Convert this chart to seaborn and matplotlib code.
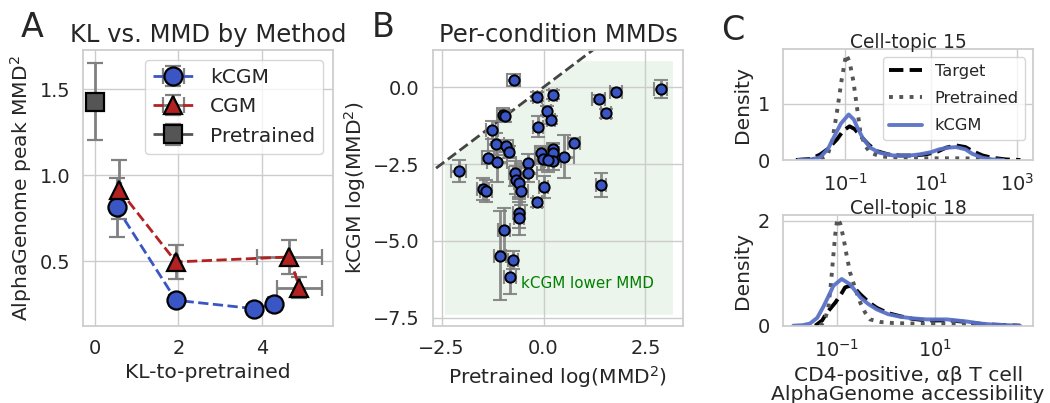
import numpy as np
import pandas as pd
import matplotlib
matplotlib.use("Agg")
import matplotlib.pyplot as plt
import seaborn as sns

# ---- Panel A: KL vs MMD per method ----
kcgm_kl = [0.52, 1.94, 3.82, 4.28]
kcgm_mmd = [0.813, 0.273, 0.224, 0.253]
kcgm_kl_err = [0.05, 0.05, 0.10, 0.14]
kcgm_mmd_err = [0.17, 0.03, 0.02, 0.03]

cgm_kl = [0.58, 1.94, 4.66, 4.90]
cgm_mmd = [0.917, 0.496, 0.525, 0.347]
cgm_kl_err = [0.05, 0.05, 0.78, 0.53]
cgm_mmd_err = [0.17, 0.10, 0.10, 0.06]

pre_kl = [0.0]
pre_mmd = [1.428]
pre_mmd_err = [0.225]

# ---- Panel B: per-condition log MMD^2 ----
pre_log = [-0.735, -0.15, 0.24, 0.09, 0.18, -0.13, -1.00, -0.95, -1.27, -1.16,
           -0.91, -0.84, -1.37, -1.14, -2.08, -1.48, -1.41, -0.69, -0.68, -0.60,
           -0.54, -0.37, -0.37, -0.05, -0.02, 0.24, 0.24, 0.24, 0.12, 0.50,
           0.74, 0.00, -0.15, -0.61, -0.61, -0.97, -1.07, -0.75, -0.83, 1.35,
           1.78, 1.54, 2.87, 1.40]
kcgm_log = [0.24, -0.31, -0.25, -0.76, -1.07, -1.28, -0.89, -0.93, -1.39, -1.85,
            -1.92, -2.12, -2.29, -2.44, -2.72, -3.32, -3.37, -2.80, -3.02, -3.13,
            -3.38, -2.46, -2.78, -2.15, -2.34, -2.00, -2.15, -2.40, -2.37, -2.26,
            -1.81, -3.25, -3.74, -4.08, -4.27, -4.64, -5.49, -5.62, -6.18, -0.37,
            -0.15, -0.85, -0.05, -3.18]
pre_log_err = [0.15, 0.12, 0.10, 0.10, 0.10, 0.12, 0.15, 0.12, 0.15, 0.20,
               0.15, 0.12, 0.15, 0.25, 0.18, 0.15, 0.15, 0.15, 0.15, 0.12,
               0.15, 0.30, 0.20, 0.15, 0.20, 0.10, 0.15, 0.20, 0.15, 0.25,
               0.15, 0.12, 0.12, 0.15, 0.12, 0.15, 0.15, 0.12, 0.15, 0.15,
               0.15, 0.12, 0.15, 0.12]
kcgm_log_err = [0.20, 0.15, 0.15, 0.15, 0.12, 0.35, 0.20, 0.20, 0.28, 0.35,
                0.20, 0.20, 0.20, 0.65, 0.35, 0.35, 0.35, 0.40, 0.45, 0.50,
                0.45, 0.30, 0.30, 0.25, 0.35, 0.20, 0.30, 0.30, 0.40, 0.70,
                0.15, 0.35, 0.15, 0.50, 0.55, 0.70, 1.45, 0.30, 0.55, 0.12,
                0.12, 0.15, 0.30, 0.38]
shade_x = [-2.43, 0.86, 3.16]
shade_lo = -7.39
shade_hi = [-2.43, 0.86, 0.86]

# ---- Panel C: density curves (x in log10 units) ----
t15_target_lx = [-2.15, -1.8, -1.58, -1.4, -1.19, -1.05, -0.9, -0.78, -0.65, -0.45, -0.27, 0.0,
                 0.27, 0.6, 0.88, 1.15, 1.35, 1.58, 1.8, 1.96, 2.2, 2.42, 2.75, 3.08]
t15_target = [0.0, 0.02, 0.1, 0.2, 0.37, 0.52, 0.60, 0.55, 0.43, 0.27, 0.16, 0.10,
              0.08, 0.08, 0.10, 0.15, 0.22, 0.26, 0.23, 0.16, 0.08, 0.04, 0.01, 0.0]
t15_kcgm_lx = [-2.1, -1.8, -1.58, -1.4, -1.27, -1.1, -0.92, -0.8, -0.73, -0.6, -0.42, -0.2,
               0.12, 0.5, 0.73, 1.0, 1.19, 1.4, 1.58, 1.8, 1.96, 2.2, 2.42, 2.69]
t15_kcgm = [0.0, 0.01, 0.05, 0.2, 0.4, 0.65, 0.81, 0.72, 0.6, 0.4, 0.22, 0.13,
            0.08, 0.08, 0.10, 0.14, 0.19, 0.22, 0.23, 0.19, 0.11, 0.04, 0.01, 0.0]
t15_pre_lx = [-1.81, -1.6, -1.42, -1.3, -1.19, -1.08, -0.98, -0.9, -0.81, -0.72,
              -0.65, -0.55, -0.42, -0.2, 0.12, 0.6, 1.2, 1.8, 2.3, 2.73]
t15_pre = [0.0, 0.02, 0.07, 0.35, 0.87, 1.45, 1.88, 1.75, 1.40, 0.90,
           0.51, 0.27, 0.13, 0.07, 0.04, 0.03, 0.03, 0.03, 0.01, 0.0]

t18_target_lx = [-1.44, -1.3, -1.2, -1.03, -0.9, -0.83, -0.74, -0.62, -0.52, -0.35, -0.18, 0.05,
                 0.30, 0.55, 0.84, 1.1, 1.32, 1.55, 1.8, 2.0, 2.21, 2.5, 2.75]
t18_target = [0.0, 0.1, 0.25, 0.44, 0.62, 0.73, 0.76, 0.70, 0.60, 0.45, 0.34, 0.24,
              0.18, 0.13, 0.10, 0.10, 0.10, 0.08, 0.05, 0.03, 0.02, 0.01, 0.0]
t18_kcgm_lx = [-1.89, -1.7, -1.55, -1.4, -1.27, -1.15, -1.07, -0.9, -0.73, -0.6, -0.52, -0.35,
               -0.18, 0.05, 0.30, 0.55, 0.84, 1.25, 1.66, 1.95, 2.21, 2.5, 2.75]
t18_kcgm = [0.0, 0.01, 0.04, 0.15, 0.37, 0.60, 0.76, 0.89, 0.79, 0.64, 0.54, 0.41,
            0.31, 0.22, 0.17, 0.14, 0.12, 0.12, 0.08, 0.04, 0.02, 0.01, 0.0]
t18_pre_lx = [-1.34, -1.25, -1.17, -1.12, -1.07, -1.03, -0.99, -0.93, -0.86, -0.8, -0.73,
              -0.62, -0.52, -0.42, -0.32, -0.1, 0.16, 0.6, 1.2, 1.6, 1.87, 2.07]
t18_pre = [0.0, 0.08, 0.37, 0.80, 1.34, 1.75, 2.04, 1.95, 1.66, 1.35, 1.02,
           0.70, 0.44, 0.25, 0.12, 0.07, 0.05, 0.04, 0.04, 0.03, 0.02, 0.0]

BLUE = "#3a55c4"
RED = "#b22222"
DGRAY = "#555555"
KBLUE = "#5a72c8"

sns.set_theme(style="whitegrid")
plt.rcParams['font.family'] = ['DejaVu Sans']

TICK = 13.9
LAB = 14.6
TITLE = 17.5

fig = plt.figure(figsize=(10.5, 4.03), dpi=100)
W, H = 1050, 403


def px_axes(x0, y0, x1, y1):
    return fig.add_axes([x0 / W, 1 - y1 / H, (x1 - x0) / W, (y1 - y0) / H])


# Panel A
axA = px_axes(83.3, 50, 333.3, 325.7)
eb = dict(ecolor="gray", elinewidth=2, capsize=6, capthick=2, markersize=13,
          markeredgecolor="black", markeredgewidth=1.6, lw=2)
axA.errorbar(kcgm_kl, kcgm_mmd, xerr=kcgm_kl_err, yerr=kcgm_mmd_err, fmt="o--",
             color=BLUE, label="kCGM", **eb)
axA.errorbar(cgm_kl, cgm_mmd, xerr=cgm_kl_err, yerr=cgm_mmd_err, fmt="^--",
             color=RED, label="CGM", **eb)
axA.errorbar(pre_kl, pre_mmd, yerr=pre_mmd_err, fmt="s--",
             color=DGRAY, label="Pretrained", **eb)
axA.set_xlim(-0.28, 5.71)
axA.set_ylim(0.125, 1.729)
axA.set_xticks([0, 2, 4])
axA.set_yticks([0.5, 1.0, 1.5])
axA.set_xlabel("KL-to-pretrained", fontsize=LAB)
axA.set_ylabel("AlphaGenome peak MMD$^2$", fontsize=LAB)
axA.set_title("KL vs. MMD by Method", fontsize=TITLE)
axA.tick_params(labelsize=TICK)
axA.legend(loc="upper right", fontsize=14.6)

# Panel B
axB = px_axes(433, 50, 683, 326)
axB.fill_between(shade_x, shade_lo, shade_hi, color="green", alpha=0.08, lw=0, zorder=0)
axB.plot([-3.5, 2.0], [-3.5, 2.0], ls="--", color="#444444", lw=2, zorder=1)
axB.errorbar(pre_log, kcgm_log, xerr=pre_log_err, yerr=kcgm_log_err, fmt="none",
             ecolor="gray", elinewidth=2, capsize=5, capthick=1.5, alpha=0.9, zorder=2)
sns.scatterplot(x=pre_log, y=kcgm_log, ax=axB, color=BLUE, edgecolor="black",
                linewidth=1.4, s=55, zorder=3)
axB.text(-0.56, -6.38, "kCGM lower MMD", color="green", fontsize=10.9, va="center", ha="left")
axB.set_xlim(-2.71, 3.42)
axB.set_ylim(-7.77, 1.21)
axB.set_xticks([-2.5, 0.0, 2.5])
axB.set_yticks([0.0, -2.5, -5.0, -7.5])
axB.set_xlabel("Pretrained log(MMD$^2$)", fontsize=LAB)
axB.set_ylabel("kCGM log(MMD$^2$)", fontsize=LAB)
axB.set_title("Per-condition MMDs", fontsize=TITLE)
axB.tick_params(labelsize=TICK)

# Panel C
axC1 = px_axes(783, 49.3, 1033.3, 160)
axC2 = px_axes(783, 215, 1033.3, 325.7)


def draw_density(ax, tgt_lx, tgt, pre_lx, pre, k_lx, k):
    ax.set_xscale("log")
    sns.lineplot(x=np.power(10.0, tgt_lx), y=tgt, ax=ax, color="black", ls="--",
                 lw=2.8, label="Target")
    sns.lineplot(x=np.power(10.0, pre_lx), y=pre, ax=ax, color=DGRAY, ls=":",
                 lw=2.8, label="Pretrained")
    sns.lineplot(x=np.power(10.0, k_lx), y=k, ax=ax, color=KBLUE, lw=2.8,
                 alpha=0.95, label="kCGM")
    ax.set_ylabel("Density", fontsize=LAB)
    ax.tick_params(labelsize=TICK)
    ax.minorticks_off()


draw_density(axC1, t15_target_lx, t15_target, t15_pre_lx, t15_pre, t15_kcgm_lx, t15_kcgm)
axC1.set_xlim(10 ** -2.45, 10 ** 3.38)
axC1.set_ylim(0, 1.97)
axC1.set_xticks([0.1, 10, 1000])
axC1.set_yticks([0, 1])
axC1.set_title("Cell-topic 15", fontsize=13.4, pad=1)
axC1.set_xlabel("")
axC1.legend(loc="upper right", fontsize=11.7, labelspacing=0.75)

draw_density(axC2, t18_target_lx, t18_target, t18_pre_lx, t18_pre, t18_kcgm_lx, t18_kcgm)
axC2.set_xlim(10 ** -2.1, 10 ** 3.02)
axC2.set_ylim(0, 2.11)
axC2.set_xticks([0.1, 10])
axC2.set_yticks([0, 2])
axC2.set_title("Cell-topic 18", fontsize=13.4, pad=1)
axC2.set_xlabel("CD4-positive, \u03b1\u03b2 T cell\nAlphaGenome accessibility", fontsize=LAB,
                linespacing=1.0)
axC2.get_legend().remove()

# Panel letters
fig.text(20.7 / W, 1 - 37 / H, "A", fontsize=24, va="baseline", ha="left")
fig.text(371.7 / W, 1 - 36.7 / H, "B", fontsize=24, va="baseline", ha="left")
fig.text(720.7 / W, 1 - 40 / H, "C", fontsize=24, va="baseline", ha="left")

fig.savefig("out.png", dpi=100)
